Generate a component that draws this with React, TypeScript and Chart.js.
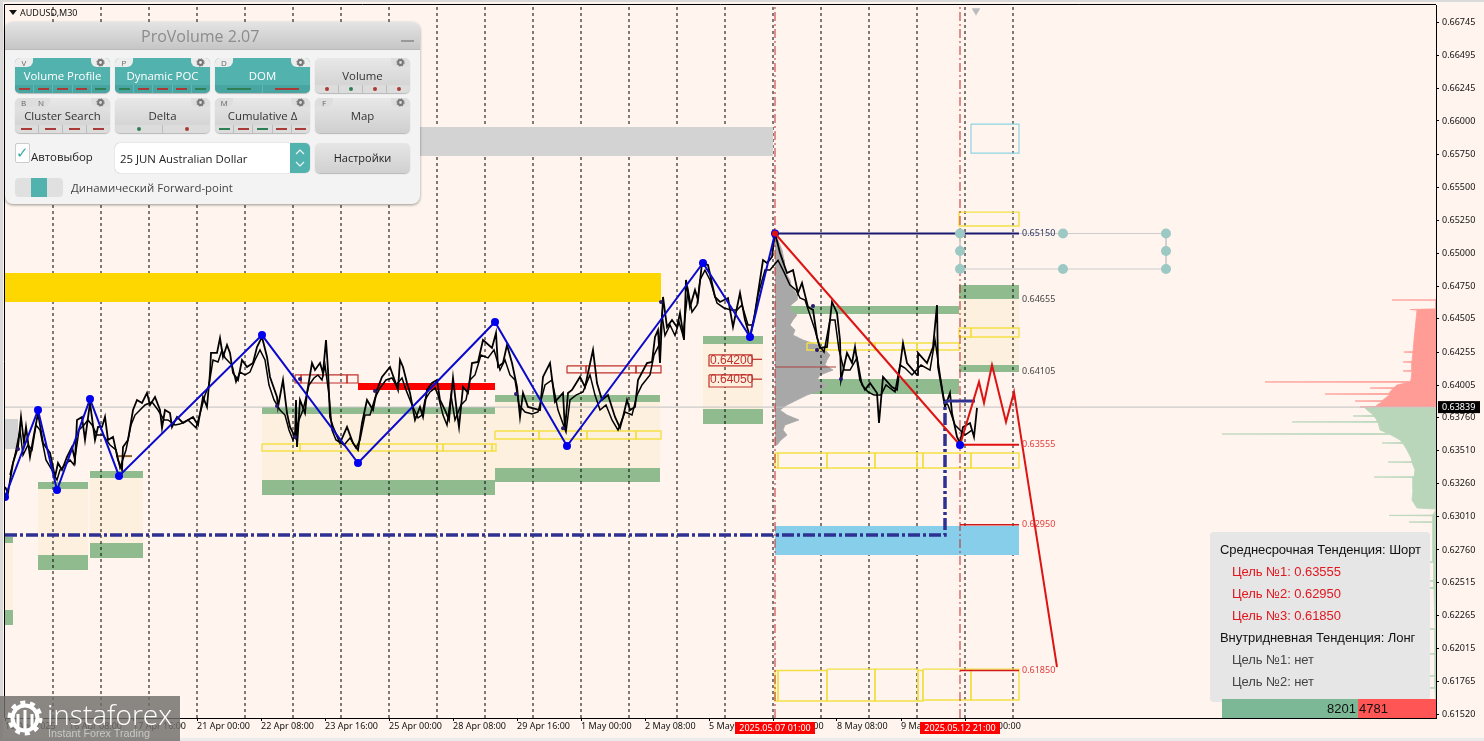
import React, { useEffect, useRef } from "react";
import { Chart, registerables } from "chart.js";

Chart.register(...registerables);

const BG = "#FFF5EE";
const X_MIN = 5;
const X_MAX = 1436;
const Y_MIN = 0.61491;
const Y_MAX = 0.66876;

const yTickValues = [0.66745, 0.66495, 0.66245, 0.66, 0.6575, 0.655, 0.6525, 0.65, 0.6475, 0.64505, 0.64255, 0.64005, 0.6376, 0.6351, 0.6326, 0.6301, 0.6276, 0.62515, 0.62265, 0.62015, 0.61765, 0.6152];
const xTickBars = [5, 69, 133, 197, 261, 325, 389, 453, 517, 581, 645, 709, 773, 837, 901, 965];
const xTickLabels = ["15 Apr 2025", "16 Apr 08:00", "17 Apr 16:00", "21 Apr 00:00", "22 Apr 08:00", "23 Apr 16:00", "25 Apr 00:00", "28 Apr 08:00", "29 Apr 16:00", "1 May 00:00", "2 May 08:00", "5 May 16:00", "7 May 00:00", "8 May 08:00", "9 May 16:00", "13 May 00:00"];
const dayBars = [53, 101, 149, 197, 245, 293, 341, 389, 437, 485, 533, 581, 629, 677, 725, 773, 821, 869, 917, 965, 1013];
const markerBars = [775, 960];
const markerLabels = ["2025.05.07 01:00", "2025.05.12 21:00"];

const priceBars = [
  5, 8, 13, 18, 21, 24, 26, 30, 33, 38,
  43, 50, 55, 58, 62, 67, 72, 75, 77, 82,
  85, 90, 95, 98, 102, 105, 108, 113, 118, 122,
  123, 128, 133, 137, 142, 147, 150, 155, 160, 162,
  165, 170, 172, 177, 183, 193, 198, 203, 207, 210,
  211, 217, 220, 223, 227, 230, 233, 238, 242, 247,
  253, 257, 262, 267, 270, 277, 278, 283, 287, 290,
  295, 296, 297, 300, 305, 307, 312, 315, 320, 323,
  326, 328, 330, 333, 340, 347, 353, 358, 362, 367,
  373, 377, 382, 390, 398, 400, 403, 407, 410, 415,
  420, 423, 427, 432, 437, 440, 445, 449, 453, 457,
  459, 463, 468, 472, 478, 483, 492, 496, 498, 503,
  507, 512, 517, 520, 523, 528, 540, 543, 550, 555,
  563, 565, 568, 572, 580, 585, 593, 597, 602, 608,
  615, 620, 623, 627, 630, 635, 638, 647, 652, 655,
  658, 660, 663, 667, 672, 677, 680, 684, 686, 690,
  695, 698, 702, 708, 715, 720, 728, 733, 740, 745,
  750, 755, 763, 767, 772, 775, 780, 787, 793, 798,
  802, 808, 813, 817, 820, 827, 832, 837, 840, 841,
  847, 852, 855, 860, 865, 870, 877, 879, 883, 892,
  897, 903, 907, 917, 918, 927, 933, 937, 938, 942,
  945, 950, 952, 957, 960, 963, 970, 974, 977,
];
const priceCloses = [
  0.63236, 0.63191, 0.63417, 0.63538, 0.63765, 0.63568, 0.63689, 0.63463, 0.63591, 0.63794,
  0.63568, 0.63493, 0.63312, 0.63417, 0.63364, 0.63463, 0.63538, 0.6344, 0.63742, 0.63765,
  0.63591, 0.6387, 0.63591, 0.63689, 0.63689, 0.63765, 0.63591, 0.63614, 0.6344, 0.63364,
  0.63538, 0.63591, 0.63817, 0.63893, 0.6387, 0.63946, 0.63855, 0.63916, 0.63817, 0.63682,
  0.63817, 0.63794, 0.63689, 0.63765, 0.63719, 0.63765, 0.63704, 0.63916, 0.6384, 0.64097,
  0.64248, 0.64248, 0.64361, 0.64218, 0.64308, 0.64248, 0.64097, 0.64044, 0.64195, 0.64142,
  0.64172, 0.64293, 0.64369, 0.64218, 0.64067, 0.63916, 0.6384, 0.64044, 0.63794, 0.63689,
  0.63614, 0.63893, 0.63538, 0.63893, 0.63794, 0.63946, 0.64172, 0.64119, 0.64172, 0.64097,
  0.64346, 0.64119, 0.63765, 0.63689, 0.63568, 0.63689, 0.63568, 0.63515, 0.63719, 0.63893,
  0.63817, 0.63969, 0.64067, 0.64142, 0.63969, 0.64195, 0.64142, 0.64021, 0.63946, 0.63742,
  0.6384, 0.63765, 0.63969, 0.64021, 0.64044, 0.63893, 0.63817, 0.63742, 0.64059, 0.63794,
  0.63689, 0.63991, 0.63946, 0.64172, 0.6418, 0.64346, 0.64286, 0.64399, 0.64142, 0.64172,
  0.64308, 0.64172, 0.63991, 0.63765, 0.63946, 0.6384, 0.63817, 0.64067, 0.64172, 0.63878,
  0.63946, 0.63666, 0.63946, 0.63969, 0.64067, 0.63991, 0.64271, 0.64021, 0.63893, 0.6393,
  0.63765, 0.63682, 0.63765, 0.63893, 0.63817, 0.6384, 0.64044, 0.64172, 0.6418, 0.64369,
  0.64421, 0.64172, 0.64671, 0.64444, 0.64497, 0.64444, 0.6455, 0.64346, 0.64799, 0.64595,
  0.64724, 0.64648, 0.64928, 0.64912, 0.64671, 0.64633, 0.64663, 0.64444, 0.64701, 0.64497,
  0.64369, 0.6455, 0.6495, 0.64928, 0.64973, 0.65154, 0.65003, 0.64852, 0.64874, 0.64701,
  0.64777, 0.64595, 0.64573, 0.64369, 0.64286, 0.64293, 0.64633, 0.6455, 0.64346, 0.64044,
  0.64248, 0.64172, 0.64293, 0.64044, 0.63969, 0.64021, 0.63946, 0.63719, 0.64067, 0.63991,
  0.63969, 0.64323, 0.64172, 0.64082, 0.64248, 0.64172, 0.64293, 0.6461, 0.64142, 0.63969,
  0.6384, 0.63946, 0.63794, 0.63614, 0.63568, 0.63689, 0.63719, 0.63614, 0.63833,
];
const rangeBars = [
  10, 15, 20, 23, 28, 32, 36, 40, 46, 52, 57, 60, 65, 70, 74, 79, 84, 88, 92, 97,
  103, 110, 116, 120, 126, 131, 135, 140, 145, 152, 158, 164, 168, 175, 180, 188, 196, 201, 205, 209,
  213, 218, 222, 225, 229, 232, 236, 240, 245, 250, 255, 260, 265, 269, 274, 280, 285, 289, 293, 299,
  303, 309, 314, 318, 322, 325, 329, 332, 336, 344, 350, 356, 360, 365, 370, 375, 380, 386, 392, 396,
  402, 406, 412, 418, 422, 425, 430, 435, 438, 443, 447, 451, 455, 461, 466, 470, 475, 481, 488, 494,
  500, 505, 510, 515, 519, 525, 532, 538, 545, 552, 558, 566, 570, 576, 583, 590, 595, 600, 606, 612,
  618, 625, 632, 637, 642, 650, 654, 659, 662, 665, 670, 675, 679, 683, 688, 692, 697, 700, 705, 710,
  717, 724, 731, 737, 742, 748, 753, 758, 765, 770, 778, 784, 790, 796, 800, 805, 811, 815, 819, 824,
  830, 835, 839, 844, 850, 857, 862, 868, 874, 881, 886, 895, 900, 905, 912, 921, 930, 935, 940, 944,
  948, 955, 965, 972,
];
const rangeValues = [
  0.63326, 0.63477, 0.63666, 0.63477, 0.63553, 0.63515, 0.63704, 0.63666, 0.6344, 0.63364, 0.63288, 0.63364, 0.63402, 0.6344, 0.63402, 0.63666, 0.63704, 0.63742, 0.63704, 0.63628,
  0.63628, 0.63553, 0.63515, 0.63379, 0.63515, 0.63704, 0.63779, 0.63817, 0.63855, 0.63878, 0.63817, 0.63742, 0.63742, 0.63704, 0.63711, 0.63742, 0.63682, 0.63817, 0.6393, 0.64006,
  0.64195, 0.6418, 0.64271, 0.64211, 0.6418, 0.64157, 0.64029, 0.64104, 0.64082, 0.64104, 0.64195, 0.64271, 0.64195, 0.64006, 0.63893, 0.63817, 0.63779, 0.63666, 0.63591, 0.63742,
  0.63817, 0.64006, 0.64059, 0.64082, 0.64044, 0.64157, 0.6393, 0.63666, 0.63591, 0.63553, 0.63606, 0.63531, 0.63591, 0.63779, 0.63779, 0.63908, 0.63983, 0.64044, 0.64059, 0.64006,
  0.64059, 0.63969, 0.63855, 0.63757, 0.63779, 0.63893, 0.63954, 0.63983, 0.6393, 0.63779, 0.63704, 0.6393, 0.63742, 0.63855, 0.63893, 0.64044, 0.64082, 0.64232, 0.64211, 0.64271,
  0.64119, 0.64195, 0.64082, 0.64044, 0.63855, 0.63802, 0.63787, 0.63802, 0.64006, 0.64044, 0.63817, 0.63651, 0.63893, 0.6393, 0.63954, 0.64082, 0.6393, 0.63817, 0.63855, 0.63742,
  0.63666, 0.63802, 0.63779, 0.6393, 0.64006, 0.64082, 0.64232, 0.64308, 0.64535, 0.6438, 0.64459, 0.6438, 0.64482, 0.6438, 0.64724, 0.64557, 0.6461, 0.64799, 0.64874, 0.64799,
  0.64625, 0.64588, 0.64572, 0.64572, 0.6461, 0.6446, 0.6446, 0.64686, 0.64874, 0.64874, 0.64948, 0.64859, 0.64761, 0.64724, 0.64663, 0.64648, 0.64512, 0.64421, 0.64308, 0.64255,
  0.64497, 0.64497, 0.64271, 0.64119, 0.64119, 0.64211, 0.64006, 0.63954, 0.6393, 0.6393, 0.64006, 0.63954, 0.64157, 0.64134, 0.64082, 0.64157, 0.64119, 0.64346, 0.64082, 0.63893,
  0.63855, 0.63704, 0.63628, 0.63666,
];
const lastPrice = 0.63839;

const zigzagBars = [5, 38, 57, 90, 119, 262, 358, 495, 567, 703, 750, 775];
const zigzagPrices = [0.6316, 0.63817, 0.63213, 0.639, 0.63319, 0.64383, 0.63417, 0.64482, 0.63545, 0.64928, 0.64369, 0.6515];
const pivotBars = [18, 277, 295, 300, 375, 516, 563, 661, 813, 817, 841];
const pivotPrices = [0.63523, 0.63848, 0.63614, 0.64051, 0.63961, 0.63938, 0.6368, 0.64633, 0.64603, 0.6427, 0.64051];

const forecastBars = [775, 960];
const forecastPrices = [0.6515, 0.63553];
const projectionBars = [960, 979, 984, 992, 1006, 1014, 1057];
const projectionPrices = [0.63553, 0.64029, 0.6387, 0.64157, 0.63726, 0.63953, 0.61876];
const supportBars = [5, 945, 945];
const supportPrices = [0.62874, 0.62874, 0.63885];
const resumeBars = [945, 975];
const resumePrices = [0.63885, 0.63885];

// [first bar, last bar, upper price, lower price]
const baseZones = [
  [38, 88, 0.63273, 0.62609],
  [90, 143, 0.63356, 0.627],
  [262, 495, 0.6384, 0.63175],
  [495, 660, 0.6393, 0.63273],
  [703, 763, 0.64376, 0.63711],
  [959, 1019, 0.64761, 0.64104],
  [5, 13, 0.62858, 0.62194],
];
const greenZones = [
  [38, 88, 0.63273, 0.6322],
  [38, 88, 0.62722, 0.62609],
  [90, 143, 0.63356, 0.63303],
  [90, 143, 0.62813, 0.627],
  [262, 495, 0.6384, 0.63787],
  [262, 495, 0.63288, 0.63175],
  [495, 660, 0.6393, 0.63877],
  [495, 660, 0.63379, 0.63273],
  [703, 763, 0.64376, 0.64315],
  [703, 763, 0.63825, 0.63711],
  [959, 1019, 0.64761, 0.64655],
  [959, 1019, 0.64157, 0.64104],
  [775, 959, 0.64603, 0.64542],
  [775, 959, 0.64051, 0.63938],
  [5, 13, 0.62858, 0.62813],
  [5, 13, 0.62307, 0.62194],
];
const yellowBand = [5, 661, 0.64852, 0.64633];
const grayZones = [
  [5, 773, 0.65954, 0.65735],
  [5, 18, 0.63749, 0.63523],
];
const blueZone = [775, 1019, 0.62941, 0.62722];
const redZone = [358, 495, 0.64021, 0.63968];
const yellowBoxes = [
  [262, 300, 0.6356, 0.63507], [300, 437, 0.6356, 0.63507], [437, 443, 0.6356, 0.63507], [443, 492, 0.6356, 0.63507], [492, 496, 0.6356, 0.63507],
  [495, 539, 0.63659, 0.63598], [539, 587, 0.63659, 0.63598], [587, 636, 0.63659, 0.63598], [636, 661, 0.63659, 0.63598],
  [775, 778, 0.63492, 0.63379], [778, 827, 0.63492, 0.63379], [827, 875, 0.63492, 0.63379], [875, 917, 0.63492, 0.63379], [917, 923, 0.63492, 0.63379], [923, 971, 0.63492, 0.63379], [971, 1019, 0.63492, 0.63379],
  [959, 1019, 0.65312, 0.65207],
  [959, 971, 0.64436, 0.64368], [971, 1019, 0.64436, 0.64368],
  [807, 827, 0.64323, 0.6427], [827, 875, 0.64323, 0.6427], [875, 917, 0.64323, 0.6427], [917, 959, 0.64323, 0.6427],
  [775, 778, 0.6185, 0.61619], [778, 827, 0.6185, 0.61619], [827, 875, 0.6186, 0.61619], [875, 918, 0.6186, 0.61619], [918, 923, 0.6185, 0.61619], [923, 971, 0.6186, 0.61627], [971, 1019, 0.6186, 0.61627],
];
const cyanBox = [971, 1019, 0.65977, 0.65758];
const redBoxes = [
  [295, 301, 0.64082, 0.64021], [301, 347, 0.64082, 0.64021], [347, 358, 0.64082, 0.64021],
  [567, 586, 0.6415, 0.64097], [586, 636, 0.6415, 0.64097], [636, 661, 0.6415, 0.64097],
];
const labelBoxes = [
  [709, 752, 0.64233, 0.6415],
  [709, 752, 0.64082, 0.63991],
];
const labelBoxPrices = [0.642, 0.6405];
const brownLevel = [116, 132, 0.63469];

const levelPrices = [0.6515, 0.64655, 0.64105, 0.63555, 0.6295, 0.6185];
const levelColors = ["#2B3A67", "#444444", "#444444", "#E43B3B", "#E43B3B", "#E43B3B"];
const targetLineBars = [960, 1019];
const targetLinePrices = [0.63555, 0.6295, 0.6185];
const fiboBars = [960, 960, 960, 1063, 1063, 1166, 1166, 1166];
const fiboPrices = [0.6515, 0.65018, 0.64882, 0.6515, 0.64882, 0.6515, 0.65018, 0.64882];

const leftProfilePrices = [0.65101, 0.65063, 0.65025, 0.64988, 0.6495, 0.64912, 0.64874, 0.64837, 0.64799, 0.64761, 0.64723, 0.64686, 0.64648, 0.6461, 0.64572, 0.64535, 0.64497, 0.64459, 0.64421, 0.64383, 0.64346, 0.64308, 0.6427, 0.64232, 0.64195, 0.64157, 0.64119, 0.64081, 0.64044, 0.64006, 0.63968, 0.6393, 0.63893, 0.63855, 0.63817, 0.63779, 0.63742, 0.63704, 0.63666, 0.63628, 0.63591, 0.63553];
const leftProfileVolumes = [3, 5, 7, 8, 9, 10, 9, 12, 15, 16, 19, 22, 22, 16, 15, 22, 18, 15, 20, 18, 28, 43, 50, 55, 52, 50, 58, 45, 42, 52, 46, 32, 22, 12, 5, 12, 24, 10, 8, 12, 6, 2];
const pocPrice = 0.64142;

const sellProfilePrices = [0.64656, 0.64649, 0.64648, 0.64647, 0.64581, 0.64576, 0.64572, 0.64497, 0.64421, 0.64346, 0.64258, 0.64255, 0.64252, 0.64183, 0.6418, 0.64177, 0.64115, 0.64112, 0.64109, 0.64045, 0.64032, 0.64029, 0.64026, 0.64006, 0.63986, 0.63983, 0.6398, 0.63953, 0.63941, 0.63938, 0.63935, 0.63893, 0.63888, 0.63885, 0.63882, 0.63855, 0.63843, 0.6384];
const sellProfileVolumes = [0, 0, 44, 0, 0, 26, 19, 20, 21, 22, 23, 32, 23, 24, 33, 24, 24, 33, 24, 25, 25, 171, 27, 39, 42, 66, 43, 46, 46, 111, 46, 53, 53, 81, 53, 59, 60, 76];
const buyProfilePrices = [0.63832, 0.63817, 0.63775, 0.63772, 0.63769, 0.63742, 0.6373, 0.63727, 0.63724, 0.63666, 0.63639, 0.63636, 0.63633, 0.63591, 0.63571, 0.63568, 0.63565, 0.63515, 0.6344, 0.63427, 0.63424, 0.63421, 0.63364, 0.63314, 0.63311, 0.63308, 0.63213, 0.63137, 0.63077, 0.63069, 0.63024, 0.63021, 0.63018, 0.62974, 0.62971, 0.62968, 0.62911, 0.62672, 0.62669, 0.62666, 0.62529, 0.62526, 0.62523, 0.62476, 0.62473, 0.6247, 0.62166, 0.62163, 0.6216, 0.61978, 0.61975, 0.61972, 0.61812, 0.61809, 0.61806, 0.61721, 0.61718, 0.61715, 0.61491];
const buyProfileVolumes = [71, 69, 62, 83, 62, 59, 59, 144, 58, 56, 48, 214, 46, 36, 34, 54, 33, 29, 24, 24, 48, 24, 21, 22, 62, 23, 23, 24, 19, 0, 3, 47, 3, 3, 27, 3, 3, 3, 9, 2, 2, 13, 2, 2, 36, 2, 1, 11, 1, 1, 14, 1, 1, 13, 1, 1, 18, 1, 0];

const infoRows = [
  ["Среднесрочная Тенденция: Шорт", "#111111", 0],
  ["Цель №1: 0.63555", "#E2161E", 12],
  ["Цель №2: 0.62950", "#E2161E", 12],
  ["Цель №3: 0.61850", "#E2161E", 12],
  ["Внутридневная Тенденция: Лонг", "#111111", 0],
  ["Цель №1: нет", "#444444", 12],
  ["Цель №2: нет", "#444444", 12],
];
const buyCount = "8201";
const sellCount = "4781";

const RED = "#A93A35";
const GRN = "#2F7F55";
const panelButtons = [
  { label: "Volume Profile", keys: ["V"], on: true, kind: "dash", marks: [RED, RED, RED, RED, GRN] },
  { label: "Dynamic POC", keys: ["P"], on: true, kind: "dash", marks: [GRN, RED, RED, RED, GRN] },
  { label: "DOM", keys: ["D"], on: true, kind: "dash", marks: [GRN, RED] },
  { label: "Volume", keys: [], on: false, kind: "dot", marks: [RED, GRN, RED, RED] },
  { label: "Cluster Search", keys: ["B", "N"], on: false, kind: "dash", marks: [RED, RED, RED, RED] },
  { label: "Delta", keys: [], on: false, kind: "dot", marks: [GRN, RED] },
  { label: "Cumulative Δ", keys: ["M"], on: false, kind: "dash", marks: [GRN, RED, GRN, RED, RED] },
  { label: "Map", keys: ["F"], on: false, kind: "none", marks: [] },
];

const line = (bars: number[], prices: number[], color: string, width: number, extra: any = {}) => ({
  type: "line",
  data: bars.map((b, i) => ({ x: b, y: prices[i] })),
  borderColor: color,
  borderWidth: width,
  pointRadius: 0,
  tension: 0,
  fill: false,
  ...extra,
});

const rect = (z: number[], fill: string | null, stroke: string, width: number) =>
  line([z[0], z[1], z[1], z[0], z[0]], [z[2], z[2], z[3], z[3], z[2]], stroke, width, fill ? { fill: "shape", backgroundColor: fill } : {});

const sideProfile = (prices: number[], volumes: number[], edge: number, dir: number, color: string) => {
  const bars = [edge, ...volumes.map((v) => edge + dir * v), edge];
  const ps = [prices[0], ...prices, prices[prices.length - 1]];
  return line(bars, ps, color, 0.8, { fill: "shape", backgroundColor: color });
};

function buildDatasets() {
  const d: any[] = [];
  baseZones.forEach((z) => d.push(rect(z, "#FDF0DF", "rgba(0,0,0,0)", 0)));
  greenZones.forEach((z) => d.push(rect(z, "#8FBB8F", "rgba(0,0,0,0)", 0)));
  d.push(sideProfile(leftProfilePrices, leftProfileVolumes, 775, 1, "#A8A8A8"));
  dayBars.forEach((b) => d.push(line([b, b], [Y_MIN, Y_MAX], "#000000", 1, { borderDash: [3, 3] })));
  d.push(rect(yellowBand, "#FFD700", "rgba(0,0,0,0)", 0));
  grayZones.forEach((z) => d.push(rect(z, "#D3D3D3", "rgba(0,0,0,0)", 0)));
  d.push(rect(blueZone, "#87CEEB", "rgba(0,0,0,0)", 0));
  d.push(rect(redZone, "#FF0000", "rgba(0,0,0,0)", 0));
  d.push(sideProfile(sellProfilePrices, sellProfileVolumes, X_MAX, -1, "#FF9C96"));
  d.push(sideProfile(buyProfilePrices, buyProfileVolumes, X_MAX, -1, "#B9D5BA"));
  d.push(line([X_MIN, X_MAX], [lastPrice, lastPrice], "#C0C0C0", 1));
  d.push(line([775, 836], [pocPrice, pocPrice], "#A8403C", 1));
  yellowBoxes.forEach((z) => d.push(rect(z, null, "#F3DF45", 1.4)));
  d.push(rect(cyanBox, null, "#8FD3E4", 1.2));
  redBoxes.forEach((z) => d.push(rect(z, null, "#C0302A", 1.2)));
  labelBoxes.forEach((z) => d.push(rect(z, "#FDF0DF", "#C0302A", 1.2)));
  labelBoxPrices.forEach((p) => d.push(line([752, 762], [p, p], "#C0302A", 1.2)));
  d.push(line([brownLevel[0], brownLevel[1]], [brownLevel[2], brownLevel[2]], "#8B5A2B", 2));
  markerBars.forEach((b) => d.push(line([b, b], [Y_MIN, Y_MAX], "#C02828", 1, { borderDash: [9, 3, 2, 3] })));
  d.push(line(rangeBars, rangeValues, "#000000", 1.5));
  d.push(line(priceBars, priceCloses, "#000000", 1.8));
  d.push(line(pivotBars, pivotPrices, "#00000000", 0, { showLine: false, pointRadius: 2, pointBackgroundColor: "#28186E", pointBorderWidth: 0 }));
  d.push(line(supportBars, supportPrices, "#2E3192", 3.5, { borderDash: [12, 3, 3, 3] }));
  d.push(line(resumeBars, resumePrices, "#2E3192", 3));
  d.push(line(zigzagBars, zigzagPrices, "#0A0ACD", 2, { pointRadius: 4, pointBackgroundColor: "#0000F0", pointBorderWidth: 0 }));
  d.push(line([775, 1019], [0.6515, 0.6515], "#191970", 2));
  d.push(line([1019, 1166], [0.6515, 0.6515], "#CCCCCC", 1));
  d.push(line([960, 1166], [0.64882, 0.64882], "#CCCCCC", 1));
  d.push(line([960, 960], [0.6515, 0.64882], "#CCCCCC", 1));
  d.push(line([1166, 1166], [0.6515, 0.64882], "#CCCCCC", 1));
  d.push(line(fiboBars, fiboPrices, "#00000000", 0, { showLine: false, pointRadius: 5, pointBackgroundColor: "#9CC9C4", pointBorderWidth: 0 }));
  d.push(line(forecastBars, forecastPrices, "#DC1414", 2));
  d.push(line(projectionBars, projectionPrices, "#DC1414", 2));
  targetLinePrices.forEach((p, i) => d.push(line(targetLineBars, [p, p], i === 0 ? "#E01010" : "#D01818", i === 0 ? 2 : 1.6)));
  d.push(line([775], [0.6515], "#00000000", 0, { showLine: false, pointRadius: 3, pointBackgroundColor: "#E01010", pointBorderWidth: 0 }));
  d.push(line([960], [0.63553], "#00000000", 0, { showLine: false, pointRadius: 4, pointBackgroundColor: "#0000F0", pointBorderWidth: 0 }));
  d.push(line([976], [0.66832], "#00000000", 0, { showLine: false, pointRadius: 5, pointStyle: "triangle", rotation: 180, pointBackgroundColor: "#BBBBBB", pointBorderWidth: 0 }));
  d.forEach((s, i) => (s.order = d.length - i));
  return d;
}

const chartText = {
  id: "chartText",
  afterDatasetsDraw(chart: any) {
    const { ctx, scales, chartArea } = chart;
    const x = scales.x;
    const y = scales.y;
    ctx.save();
    ctx.strokeStyle = "#000";
    ctx.lineWidth = 1;
    ctx.beginPath();
    ctx.moveTo(chartArea.left - 0.5, chartArea.bottom);
    ctx.lineTo(chartArea.left - 0.5, chartArea.top - 0.5);
    ctx.lineTo(chartArea.right, chartArea.top - 0.5);
    ctx.stroke();
    ctx.textBaseline = "middle";
    ctx.textAlign = "left";
    ctx.font = '9px "Noto Sans"';
    levelPrices.forEach((p, i) => {
      ctx.fillStyle = levelColors[i];
      ctx.fillText(p.toFixed(5), x.getPixelForValue(1022), y.getPixelForValue(p));
    });
    ctx.font = '12px "Liberation Sans"';
    ctx.fillStyle = "#C0302A";
    labelBoxPrices.forEach((p) => ctx.fillText(p.toFixed(5), x.getPixelForValue(710), y.getPixelForValue(p) + 1));
    ctx.font = '9px "Noto Sans"';
    ctx.fillStyle = "#000";
    ctx.fillRect(1438, y.getPixelForValue(lastPrice) - 6, 42, 12);
    ctx.fillStyle = "#FFF";
    ctx.fillText(lastPrice.toFixed(5), 1442, y.getPixelForValue(lastPrice));
    ctx.textAlign = "center";
    markerBars.forEach((b, i) => {
      const cx = x.getPixelForValue(b);
      ctx.fillStyle = "#FF0000";
      ctx.fillRect(cx - 40, 722, 80, 12);
      ctx.fillStyle = "#FFF";
      ctx.fillText(markerLabels[i], cx, 728);
    });
    ctx.restore();
  },
};

const abs = (left: number, top: number, width: number, height: number, extra: any = {}) => ({
  position: "absolute",
  left,
  top,
  width,
  height,
  ...extra,
});

function Gear({ x, y }: { x: number; y: number }) {
  return (
    <svg width="9" height="9" style={{ position: "absolute", left: x, top: y }}>
      <circle cx="4.5" cy="4.5" r="2.4" fill="none" stroke="#777" strokeWidth="2" />
      <circle cx="4.5" cy="4.5" r="3.7" fill="none" stroke="#777" strokeWidth="1" strokeDasharray="1.4 1.5" />
    </svg>
  );
}

function PanelButton({ b, x, y }: any) {
  const on = b.on;
  const tabBg = on ? "#EDEDED" : "#DEDEDE";
  return (
    <div style={abs(x, y, 95, 35, { borderRadius: 5, overflow: "hidden", background: on ? "#52B2AE" : "linear-gradient(#E8E8E8,#CFCFCF)", boxShadow: "0 1px 1px rgba(0,0,0,.25)" })}>
      {b.keys.length > 0 && (
        <div style={abs(0, 0, b.keys.length * 17 + 1, 9, { background: tabBg, borderRadius: "0 0 6px 0", font: '8px "Open Sans"', color: "#666", display: "flex", justifyContent: "space-around", lineHeight: "10px" })}>
          {b.keys.map((k: string) => (
            <span key={k}>{k}</span>
          ))}
        </div>
      )}
      <div style={abs(76, 0, 19, 9, { background: tabBg, borderRadius: "0 0 0 6px" })} />
      <Gear x={81} y={0} />
      <div style={abs(0, 9, 95, 18, { textAlign: "center", font: '11.4px/18px "Open Sans"', color: on ? "#FFF" : "#333" })}>{b.label}</div>
      {b.marks.length > 0 && (
        <div style={abs(0, 27, 95, 8, { display: "flex", background: on ? "#48A5A1" : "#DCDCDC" })}>
          {b.marks.map((c: string, i: number) => (
            <div key={i} style={{ flex: 1, display: "flex", alignItems: "center", justifyContent: "center", borderLeft: i ? `1px solid ${on ? "#5CBAB6" : "#BDBDBD"}` : "none" }}>
              {b.kind === "dash" ? (
                <div style={{ width: b.marks.length === 2 ? 24 : 11, height: 1.5, background: c }} />
              ) : (
                <div style={{ width: 4, height: 4, borderRadius: 2, background: c }} />
              )}
            </div>
          ))}
        </div>
      )}
    </div>
  );
}

function ProVolumePanel() {
  return (
    <div style={abs(5, 22, 415, 182, { borderRadius: 8, background: "#F3F3F3", boxShadow: "0 1px 3px rgba(0,0,0,.4)", overflow: "hidden" })}>
      <div style={abs(0, 0, 415, 27, { background: "linear-gradient(#E4E4E4,#C6C6C6)", borderBottom: "1px solid #BBB" })} />
      <div style={abs(136, 0, 130, 27, { font: '16px/28px "Open Sans"', color: "#8C8C8C", whiteSpace: "nowrap" })}>ProVolume 2.07</div>
      <div style={abs(396, 18, 13, 2, { background: "#999" })} />
      {panelButtons.map((b, i) => (
        <PanelButton key={b.label} b={b} x={10 + (i % 4) * 100} y={36 + Math.floor(i / 4) * 40} />
      ))}
      <div style={abs(10, 121, 13, 18, { background: "#FFF", border: "1px solid #CCC", borderRadius: 2, color: "#3FA7A3", font: '15px/17px "Noto Sans"', textAlign: "center" })}>✓</div>
      <div style={abs(26, 126, 80, 18, { font: '11.4px/18px "Open Sans"', color: "#222" })}>Автовыбор</div>
      <div style={abs(110, 121, 195, 30, { background: "#FFF", borderRadius: 5, overflow: "hidden", boxShadow: "0 0 1px rgba(0,0,0,.4)" })}>
        <div style={abs(5, 0, 170, 30, { font: '11.4px/31px "Open Sans"', color: "#222" })}>25 JUN Australian Dollar</div>
        <div style={abs(175, 0, 20, 30, { background: "#52B2AE" })}>
          <svg width="20" height="30">
            <path d="M6 11 L10 7 L14 11 M6 19 L10 23 L14 19" fill="none" stroke="#E8F5F4" strokeWidth="1.2" />
          </svg>
        </div>
      </div>
      <div style={abs(310, 121, 95, 30, { borderRadius: 5, background: "linear-gradient(#E6E6E6,#D0D0D0)", boxShadow: "0 1px 1px rgba(0,0,0,.25)", textAlign: "center", font: '11px/30px "Open Sans"', color: "#222" })}>Настройки</div>
      <div style={abs(10, 156, 48, 19, { borderRadius: 4, background: "#E0E0E0", overflow: "hidden" })}>
        <div style={abs(16, 0, 16, 19, { background: "#52B2AE" })} />
      </div>
      <div style={abs(66, 157, 260, 18, { font: '11.4px/18px "Open Sans"', color: "#444" })}>Динамический Forward-point</div>
    </div>
  );
}

function InfoPanel() {
  return (
    <>
      <div style={abs(1210, 532, 220, 170, { background: "#E6E6E6", borderRadius: 4 })}>
        {infoRows.map((r: any, i) => (
          <div key={i} style={abs(10 + r[2], 7 + i * 22, 208, 22, { font: '13px/22px "Liberation Sans"', color: r[1], whiteSpace: "nowrap", letterSpacing: -0.06 })}>{r[0]}</div>
        ))}
      </div>
      <div style={abs(1222, 699, 136, 19, { background: "#7CB896", font: '13px/19px "Liberation Sans"', color: "#111", textAlign: "right", paddingRight: 2, boxSizing: "border-box" })}>{buyCount}</div>
      <div style={abs(1358, 699, 78, 19, { background: "#FF5555", font: '13px/19px "Liberation Sans"', color: "#111", paddingLeft: 1, boxSizing: "border-box" })}>{sellCount}</div>
    </>
  );
}

function Watermark() {
  return (
    <div style={abs(0, 696, 180, 45, { background: "rgba(112,110,106,.82)", overflow: "hidden" })}>
      <svg width="38" height="38" style={{ position: "absolute", left: 6, top: 3 }}>
        <circle cx="19" cy="19" r="12.5" fill="none" stroke="#FFF" strokeWidth="4" />
        <circle cx="19" cy="19" r="15.5" fill="none" stroke="#FFF" strokeWidth="4" strokeDasharray="5 4.7" />
        <path d="M19 11 V33 M12 15 V29 M26 15 V29" stroke="#FFF" strokeWidth="3" />
      </svg>
      <div style={abs(47, 1, 135, 34, { font: '300 28px/34px "Open Sans"', color: "#FFF" })}>instaforex</div>
      <div style={abs(48, 30, 130, 14, { font: '10.8px/14px "Liberation Sans"', color: "#C8C8C8" })}>Instant Forex Trading</div>
    </div>
  );
}

export default function App() {
  const ref = useRef<HTMLCanvasElement>(null);
  useEffect(() => {
    const chart = new Chart(ref.current as any, {
      type: "line",
      data: { datasets: buildDatasets() as any },
      plugins: [chartText as any],
      options: {
        responsive: false,
        animation: false,
        devicePixelRatio: 1,
        events: [],
        layout: { padding: { left: 5, top: 5, right: 0, bottom: 0 } },
        plugins: { legend: { display: false }, tooltip: { enabled: false } },
        scales: {
          x: {
            type: "linear",
            min: X_MIN,
            max: X_MAX,
            grid: { drawOnChartArea: false, drawTicks: true, tickLength: 3, tickColor: "#000" },
            border: { color: "#000", width: 1 },
            afterBuildTicks: (s: any) => {
              s.ticks = xTickBars.map((v) => ({ value: v }));
            },
            afterFit: (s: any) => {
              s.height = 23;
              s.paddingLeft = 0;
              s.paddingRight = 0;
            },
            ticks: {
              autoSkip: false,
              maxRotation: 0,
              minRotation: 0,
              align: "start",
              padding: 0,
              color: "#111",
              font: { family: "Noto Sans", size: 9 },
              callback: (_v: any, i: number) => xTickLabels[i],
            },
          },
          y: {
            type: "linear",
            position: "right",
            min: Y_MIN,
            max: Y_MAX,
            grid: { drawOnChartArea: false, drawTicks: true, tickLength: 3, tickColor: "#000" },
            border: { color: "#000", width: 1 },
            afterBuildTicks: (s: any) => {
              s.ticks = yTickValues.map((v) => ({ value: v }));
            },
            afterFit: (s: any) => {
              s.width = 48;
              s.paddingTop = 0;
              s.paddingBottom = 0;
            },
            ticks: {
              autoSkip: false,
              padding: 3,
              color: "#111",
              font: { family: "Noto Sans", size: 9 },
              callback: (v: any) => Number(v).toFixed(5),
            },
          },
        },
      } as any,
    });
    return () => chart.destroy();
  }, []);

  return (
    <div style={abs(0, 0, 1484, 741, { background: BG, overflow: "hidden" })}>
      <canvas ref={ref} width={1484} height={741} style={{ position: "absolute", left: 0, top: 0, width: 1484, height: 741 }} />
      <div style={abs(0, 0, 1484, 2, { background: "#DADADA" })} />
      <div style={abs(0, 0, 3, 741, { background: "#DADADA" })} />
      <div style={abs(0, 738, 1484, 3, { background: "#EBEBEB" })} />
      <div style={abs(20, 6, 100, 13, { font: '9px/13px "Noto Sans"', color: "#111" })}>AUDUSD,M30</div>
      <svg width="8" height="6" style={{ position: "absolute", left: 9, top: 10 }}>
        <path d="M0 0 H8 L4 5 Z" fill="#111" />
      </svg>
      <ProVolumePanel />
      <InfoPanel />
      <Watermark />
    </div>
  );
}
